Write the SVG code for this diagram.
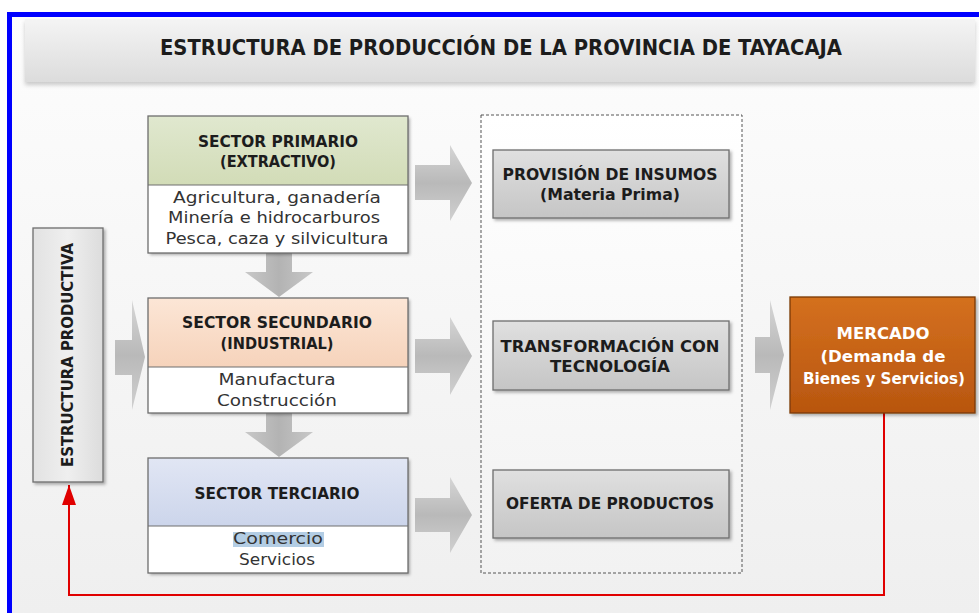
<svg xmlns="http://www.w3.org/2000/svg" width="979" height="613" viewBox="0 0 979 613">
<defs>
<linearGradient id="bg" x1="0" y1="0" x2="0" y2="1"><stop offset="0" stop-color="#fdfdfd"/><stop offset="1" stop-color="#efefef"/></linearGradient>
<linearGradient id="band" x1="0" y1="0" x2="0" y2="1"><stop offset="0" stop-color="#f4f4f4"/><stop offset="1" stop-color="#dcdcdc"/></linearGradient>
<linearGradient id="green" x1="0" y1="0" x2="0" y2="1"><stop offset="0" stop-color="#e0e8cf"/><stop offset="1" stop-color="#d2dcb7"/></linearGradient>
<linearGradient id="peach" x1="0" y1="0" x2="0" y2="1"><stop offset="0" stop-color="#fce6d6"/><stop offset="1" stop-color="#f6d3bb"/></linearGradient>
<linearGradient id="blue" x1="0" y1="0" x2="0" y2="1"><stop offset="0" stop-color="#e1e6f4"/><stop offset="1" stop-color="#ccd5eb"/></linearGradient>
<linearGradient id="gray" x1="0" y1="0" x2="0" y2="1"><stop offset="0" stop-color="#e0e0e0"/><stop offset="1" stop-color="#c5c5c5"/></linearGradient>
<linearGradient id="orange" x1="0" y1="0" x2="0" y2="1"><stop offset="0" stop-color="#d4701f"/><stop offset="1" stop-color="#b8560f"/></linearGradient>
<linearGradient id="side" x1="0" y1="0" x2="1" y2="0"><stop offset="0" stop-color="#e2e2e2"/><stop offset="0.5" stop-color="#efefef"/><stop offset="1" stop-color="#dcdcdc"/></linearGradient>
<linearGradient id="dash" x1="0" y1="0" x2="0" y2="1"><stop offset="0" stop-color="#ffffff"/><stop offset="1" stop-color="#f2f2f2"/></linearGradient>
<linearGradient id="arrowH" x1="0" y1="0" x2="0" y2="1"><stop offset="0" stop-color="#d6d6d6"/><stop offset="0.5" stop-color="#b9b9b9"/><stop offset="1" stop-color="#d0d0d0"/></linearGradient>
<linearGradient id="arrowV" x1="0" y1="0" x2="1" y2="0"><stop offset="0" stop-color="#c8c8c8"/><stop offset="0.5" stop-color="#b3b3b3"/><stop offset="1" stop-color="#c8c8c8"/></linearGradient>
<filter id="sh" x="-10%" y="-10%" width="130%" height="130%"><feDropShadow dx="2" dy="2" stdDeviation="1.5" flood-color="#000" flood-opacity="0.3"/></filter>
<filter id="shb" x="-5%" y="-20%" width="110%" height="150%"><feDropShadow dx="0" dy="3" stdDeviation="2" flood-color="#000" flood-opacity="0.2"/></filter>
<marker id="redhead" viewBox="0 0 20 14" refX="20" refY="7" markerWidth="20" markerHeight="14" markerUnits="userSpaceOnUse" orient="auto"><path d="M0,0 L20,7 L0,14 Z" fill="#e00000"/></marker>
</defs>
<style>
.hdr{font-family:"DejaVu Sans",sans-serif;font-weight:bold;font-size:15.5px;fill:#1c1c1c;text-anchor:middle}
.body{font-family:"DejaVu Sans",sans-serif;font-size:16.5px;fill:#333333;text-anchor:middle}
.white{fill:#ffffff}
.box{stroke:#6e6e6e;stroke-width:1.3}
.arrow{stroke:none}
</style>

<rect x="0" y="0" width="979" height="613" fill="#ffffff"/>
<rect x="12" y="17" width="967" height="596" fill="url(#bg)"/>
<rect x="7" y="12" width="972" height="5" fill="#0000ff"/>
<rect x="7" y="12" width="5" height="601" fill="#0000ff"/>

<g id="title">
<rect x="25" y="19" width="950" height="63" fill="url(#band)" filter="url(#shb)"/>
<text x="501" y="55" font-family="DejaVu Sans Condensed, Liberation Sans, sans-serif" font-weight="bold" font-size="22" fill="#1c1c1c" text-anchor="middle" textLength="682" lengthAdjust="spacingAndGlyphs">ESTRUCTURA DE PRODUCCIÓN DE LA PROVINCIA DE TAYACAJA</text>
</g>

<g id="contenedor">
<rect x="481" y="115" width="261" height="458" fill="url(#dash)" stroke="#555555" stroke-width="1" stroke-dasharray="3 2"/>
</g>

<g id="connectors">
<path class="arrow" fill="url(#arrowV)" d="M266,253 H292 V272 H313 L279,297 L245,272 H266 Z"/>
<path class="arrow" fill="url(#arrowV)" d="M266,413 H292 V432 H313 L279,457 L245,432 H266 Z"/>
<path class="arrow" fill="url(#arrowH)" d="M415,165 H450 V145 L472,183 L450,221 V200 H415 Z"/>
<path class="arrow" fill="url(#arrowH)" d="M415,339 H450 V317 L472,356 L450,395 V373 H415 Z"/>
<path class="arrow" fill="url(#arrowH)" d="M415,498 H450 V477 L472,515 L450,553 V532 H415 Z"/>
<path class="arrow" fill="url(#arrowH)" d="M115,340 H132 V300 L145,357 L132,410 V375 H115 Z"/>
<path class="arrow" fill="url(#arrowH)" d="M755,337 H770 V300 L784,355 L770,410 V373 H755 Z"/>
<path d="M884,413 V595 H69 V485" fill="none" stroke="#e00000" stroke-width="2" marker-end="url(#redhead)"/>
</g>

<g id="estructura">
<rect class="box" x="33" y="228" width="70" height="254" fill="url(#side)" filter="url(#sh)"/>
<text class="hdr" transform="translate(73,355) rotate(-90)" x="0" y="0" textLength="224" lengthAdjust="spacingAndGlyphs">ESTRUCTURA PRODUCTIVA</text>
</g>

<g id="primario">
<g filter="url(#sh)">
<rect x="148" y="116" width="260" height="69" fill="url(#green)"/>
<rect x="148" y="185" width="260" height="68" fill="#ffffff"/>
</g>
<rect class="box" x="148" y="116" width="260" height="137" fill="none"/>
<line x1="148" y1="185" x2="408" y2="185" stroke="#6e6e6e" stroke-width="1"/>
<text class="hdr" x="278" y="147" textLength="160" lengthAdjust="spacingAndGlyphs">SECTOR PRIMARIO</text>
<text class="hdr" x="278" y="167" textLength="116" lengthAdjust="spacingAndGlyphs">(EXTRACTIVO)</text>
<text class="body" x="277" y="203" textLength="208" lengthAdjust="spacingAndGlyphs">Agricultura, ganadería</text>
<text class="body" x="274" y="223" textLength="212" lengthAdjust="spacingAndGlyphs">Minería e hidrocarburos</text>
<text class="body" x="277" y="244" textLength="223" lengthAdjust="spacingAndGlyphs">Pesca, caza y silvicultura</text>
</g>

<g id="secundario">
<g filter="url(#sh)">
<rect x="148" y="298" width="260" height="69" fill="url(#peach)"/>
<rect x="148" y="367" width="260" height="46" fill="#ffffff"/>
</g>
<rect class="box" x="148" y="298" width="260" height="115" fill="none"/>
<line x1="148" y1="367" x2="408" y2="367" stroke="#6e6e6e" stroke-width="1"/>
<text class="hdr" x="277" y="328" textLength="190" lengthAdjust="spacingAndGlyphs">SECTOR SECUNDARIO</text>
<text class="hdr" x="277" y="349" textLength="113" lengthAdjust="spacingAndGlyphs">(INDUSTRIAL)</text>
<text class="body" x="277" y="385" textLength="117" lengthAdjust="spacingAndGlyphs">Manufactura</text>
<text class="body" x="277" y="406" textLength="120" lengthAdjust="spacingAndGlyphs">Construcción</text>
</g>

<g id="terciario">
<g filter="url(#sh)">
<rect x="148" y="458" width="260" height="68" fill="url(#blue)"/>
<rect x="148" y="526" width="260" height="47" fill="#ffffff"/>
</g>
<rect class="box" x="148" y="458" width="260" height="115" fill="none"/>
<line x1="148" y1="526" x2="408" y2="526" stroke="#6e6e6e" stroke-width="1"/>
<text class="hdr" x="277" y="499" textLength="165" lengthAdjust="spacingAndGlyphs">SECTOR TERCIARIO</text>
<rect x="233" y="532" width="91" height="15" fill="#b3cde4"/>
<text class="body" x="278" y="544" textLength="90" lengthAdjust="spacingAndGlyphs">Comercio</text>
<text class="body" x="277" y="565" textLength="76" lengthAdjust="spacingAndGlyphs">Servicios</text>
</g>

<g id="provision">
<rect class="box" x="493" y="150" width="236" height="68" fill="url(#gray)" filter="url(#sh)"/>
<text class="hdr" x="610" y="180" textLength="215" lengthAdjust="spacingAndGlyphs">PROVISIÓN DE INSUMOS</text>
<text class="hdr" x="610" y="200" textLength="140" lengthAdjust="spacingAndGlyphs">(Materia Prima)</text>
</g>

<g id="transformacion">
<rect class="box" x="493" y="321" width="236" height="69" fill="url(#gray)" filter="url(#sh)"/>
<text class="hdr" x="610" y="352" textLength="219" lengthAdjust="spacingAndGlyphs">TRANSFORMACIÓN CON</text>
<text class="hdr" x="610" y="372" textLength="120" lengthAdjust="spacingAndGlyphs">TECNOLOGÍA</text>
</g>

<g id="oferta">
<rect class="box" x="493" y="470" width="236" height="68" fill="url(#gray)" filter="url(#sh)"/>
<text class="hdr" x="610" y="509" textLength="208" lengthAdjust="spacingAndGlyphs">OFERTA DE PRODUCTOS</text>
</g>

<g id="mercado">
<rect x="790" y="297" width="185" height="116" fill="url(#orange)" stroke="#7a3a0a" stroke-width="1.3" filter="url(#sh)"/>
<text class="hdr white" x="883" y="339" textLength="93" lengthAdjust="spacingAndGlyphs">MERCADO</text>
<text class="hdr white" x="883" y="362" textLength="125" lengthAdjust="spacingAndGlyphs">(Demanda de</text>
<text class="hdr white" x="884" y="384" textLength="162" lengthAdjust="spacingAndGlyphs">Bienes y Servicios)</text>
</g>
</svg>
